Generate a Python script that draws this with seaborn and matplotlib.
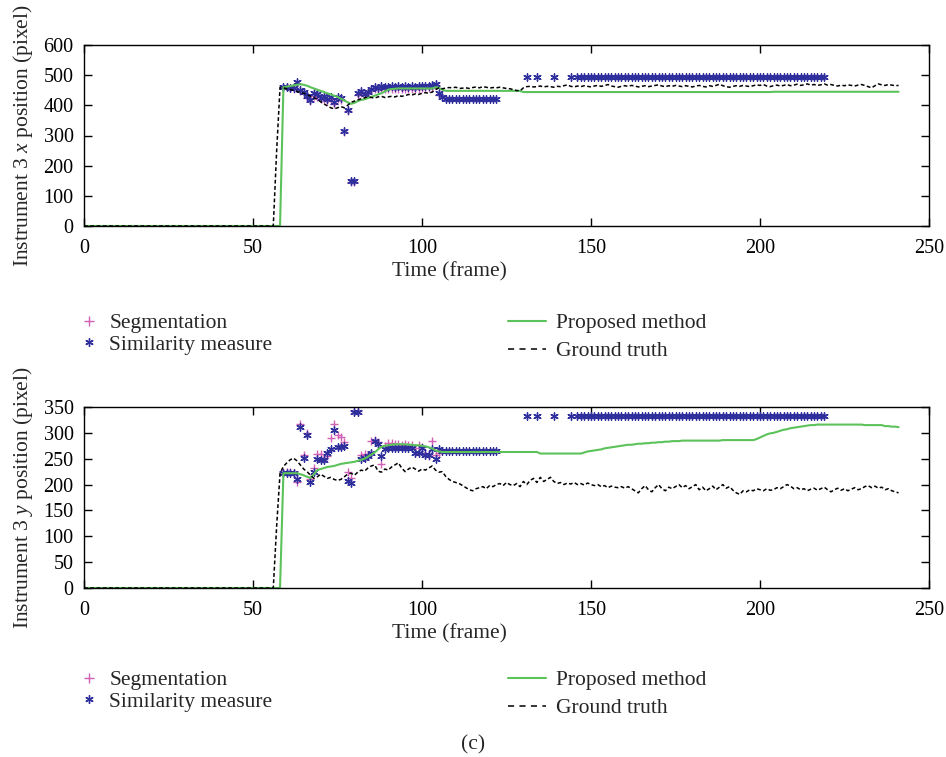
import numpy as np
import pandas as pd
import seaborn as sns
import matplotlib
matplotlib.use("Agg")
import matplotlib.pyplot as plt
from matplotlib.lines import Line2D

# ---------------------------------------------------------------- data
frames = list(range(242))

# Instrument 3, x position (pixel)
gt_x = ([0] * 57 +
        [250, 460, 458, 455, 452, 450, 446, 442, 440, 436, 430, 425, 420, 412, 405, 398,
         392, 388, 392, 396, 392, 400, 410, 414, 418, 422, 425, 428, 426, 424, 428, 430,
         426, 428, 430, 428, 432, 430, 432, 436, 434, 438, 436, 440, 442, 440, 444, 452,
         458] +
        [455, 457, 459, 458, 460, 456, 457, 458, 456, 459, 461, 458, 462, 460, 457, 459,
         458, 460, 458, 456, 455, 452, 449, 448] +
        [458, 462, 463, 461, 462, 464, 461, 463, 462, 460, 463, 462, 465, 468, 463, 461,
         464, 462, 465, 463, 461, 464, 466, 463, 465, 469, 464, 462, 460, 463, 465, 463,
         466, 464, 461, 463, 465, 462, 464, 466, 468, 464, 462, 465, 463, 466, 464, 462,
         465, 463, 461, 464, 466, 463, 461, 465, 463, 466, 470, 465, 462, 460, 463, 465,
         463, 466, 464, 462, 465, 468, 466, 469, 464, 462, 465, 467, 464, 466, 469, 465,
         467, 470, 466, 468, 471, 467, 469, 466, 468, 471, 467, 469, 466, 464, 467, 465,
         468, 466, 464, 467, 469, 466, 462, 458, 465, 471, 468, 466, 469, 467, 465, 466])

pm_x = ([0] * 59 +
        [460, 462, 464, 466, 468, 470, 468, 465, 460, 456, 452, 448, 444, 440, 436, 432,
         428, 422, 416, 410, 405, 408, 414, 418, 420, 424, 428, 432, 436, 440, 446, 452,
         454, 455] +
        [456] * 11 + [460, 458, 452] +
        [448] * 23 + [444] * 74 + [445] * 38)

# Instrument 3, y position (pixel)
gt_y = ([0] * 57 +
        [120, 222, 235, 242, 248, 251, 246, 238, 230, 225, 218, 212, 215, 220, 216, 212,
         214, 210, 208, 210, 215, 220, 222, 218, 224, 228, 226, 232, 236, 238, 226, 224,
         230, 228, 234, 238, 242, 232, 225, 230, 234, 230, 226, 230, 228, 232, 236, 228,
         224, 225, 216, 210, 206, 204, 202, 198, 194, 190, 188, 192, 194, 196, 192, 198,
         196, 200, 202, 198, 204, 200, 198, 202, 196, 206, 200, 208, 212, 204, 214, 206,
         210, 214, 206, 202, 204, 200, 203, 201, 204, 200, 202, 199, 203, 200, 198, 200,
         196, 198, 194, 197, 195, 194, 196, 193, 196, 192, 188, 184, 192, 198, 190, 186,
         194, 200, 192, 188, 195, 192, 196, 200, 194, 198, 192, 196, 200, 190, 195, 188,
         192, 197, 190, 195, 200, 193, 196, 189, 184, 181, 188, 186, 190, 188, 192, 190,
         188, 192, 189, 190, 194, 192, 196, 200, 197, 192, 194, 190, 192, 188, 191, 193,
         189, 192, 195, 190, 186, 190, 193, 189, 192, 188, 191, 194, 190, 192, 196, 198,
         194, 197, 193, 195, 190, 192, 188, 186, 184])

pm_y = ([0] * 59 +
        [222, 222, 222, 222, 222, 220, 218, 215, 213, 220, 228, 230, 232, 234, 235, 236,
         238, 240, 241, 242, 243, 244, 246, 248, 250, 254, 258, 262, 268, 273, 275, 276,
         277, 278, 278, 278, 278, 277, 277, 276, 276, 275, 274, 272, 270, 266, 264] +
        [263] * 29 + [260] * 13 +
        [262, 264, 265, 266, 267, 268, 270, 271, 272, 273, 274, 275, 276, 277, 277, 278,
         279, 279, 280, 280, 281, 281, 282, 282, 283, 283, 284, 284, 284] +
        [285] * 12 + [286] * 10 +
        [288, 291, 294, 297, 299, 300, 302, 304, 306, 307, 309, 310, 311, 312, 313, 314,
         315, 315, 316] +
        [316] * 13 + [315] * 6 + [313, 313, 312, 312, 311])

# Per-frame detections
seg_frames = list(range(59, 106))
seg_x = [458, 460, 456, 454, 470, 448, 440, 425, 415, 432, 428, 420, 422, 415, 420, 405,
         420, 418, 310, 380, 145, 145, 435, 442, 436, 440, 450, 454, 453, 455, 455, 455,
         455, 455, 455, 455, 455, 455, 455, 455, 455, 456, 456, 457, 458, 466, 435]
seg_y = [224, 224, 224, 222, 205, 318, 258, 300, 210, 232, 260, 260, 252, 255, 290, 318,
         295, 292, 282, 225, 212, 343, 343, 258, 260, 258, 285, 286, 282, 240, 275, 280,
         280, 278, 278, 276, 278, 276, 277, 270, 276, 272, 262, 255, 285, 258, 262]

sim_frames = list(range(59, 123)) + [131, 134, 139, 144] + list(range(146, 220))
sim_x = ([460, 460, 458, 456, 476, 452, 445, 432, 418, 440, 436, 425, 430, 420, 428, 410,
          428, 425, 315, 385, 150, 148, 440, 448, 438, 445, 455, 460, 457, 463, 461, 462,
          463, 462, 463, 462, 463, 462, 463, 462, 463, 464, 463, 465, 466, 470, 440, 428] +
         [420] * 16 + [495] * 4 + [495] * 74)
sim_y = ([222, 222, 222, 222, 210, 312, 252, 295, 205, 225, 250, 248, 248, 262, 268, 305,
          272, 272, 275, 206, 204, 340, 340, 250, 252, 255, 262, 285, 278, 255, 268, 270,
          270, 271, 270, 271, 270, 270, 271, 262, 262, 270, 258, 258, 268, 250, 268] +
         [265] * 17 + [333] * 4 + [333] * 74)

# ---------------------------------------------------------------- style
sns.set_style("ticks")
plt.rcParams.update({
    "font.family": ["Liberation Serif", "DejaVu Serif"],
    "mathtext.fontset": "custom",
    "mathtext.rm": "Liberation Serif",
    "mathtext.it": "Liberation Serif:italic",
    "axes.edgecolor": "black",
    "axes.linewidth": 1.0,
    "xtick.color": "black",
    "ytick.color": "black",
})

GREEN = "#5cc25a"
PINK = "#d060b4"
BLUE = "#2e2e9c"
GT_DASH = (0, (2.5, 1.6))
ASTERISK = (6, 2, 0)
FS = 15.5

W, H = 946, 757
fig = plt.figure(figsize=(W / 100, H / 100), dpi=100)


def fig_box(left, top, right, bottom):
    return [left / W, 1 - bottom / H, (right - left) / W, (bottom - top) / H]


ax_top = fig.add_axes(fig_box(84, 45, 929, 226))
ax_bot = fig.add_axes(fig_box(84, 407, 929, 588))


def draw_panel(ax, gt, pm, seg, sim, ymax, ystep, ylabel):
    sns.lineplot(x=frames, y=pm, ax=ax, color=GREEN, lw=1.5, estimator=None)
    sns.lineplot(x=frames, y=gt, ax=ax, color="black", lw=1.1, estimator=None,
                 linestyle=GT_DASH)
    sns.scatterplot(x=seg_frames, y=seg, ax=ax, marker="+", color=PINK, s=40,
                    linewidth=1.0)
    sns.scatterplot(x=sim_frames, y=sim, ax=ax, marker=ASTERISK, color=BLUE, s=28,
                    linewidth=1.0)
    ax.set_xlim(0, 250)
    ax.set_ylim(0, ymax)
    ax.set_xticks(np.arange(0, 251, 50))
    ax.set_yticks(np.arange(0, ymax + 1, ystep))
    ax.tick_params(direction="in", length=6, width=1.0, top=True, right=True,
                   labelsize=14.5)
    ax.tick_params(axis="x", pad=9.5)
    ax.tick_params(axis="y", pad=7.5)
    ax.set_xlabel("Time (frame)", fontsize=FS, labelpad=5)
    ax.xaxis.set_label_coords((449 - 84) / 845, -0.3, transform=ax.transAxes)
    ax.xaxis.label.set_va("center")
    ax.set_ylabel(ylabel, fontsize=FS, labelpad=6)
    for s in ax.spines.values():
        s.set_visible(True)
        s.set_linewidth(1.0)


def add_legends(ax, top_px):
    h_seg = Line2D([], [], marker="+", color=PINK, ls="none", ms=7, mew=1.0)
    h_sim = Line2D([], [], marker=ASTERISK, color=BLUE, ls="none", ms=6, mew=1.0)
    h_pm = Line2D([], [], color=GREEN, lw=1.5)
    h_gt = Line2D([], [], color="black", lw=1.1, ls=(0, (4, 3.5)))
    common = dict(loc="upper left", frameon=False, fontsize=FS, borderpad=0,
                  borderaxespad=0, bbox_transform=fig.transFigure)
    leg1 = ax.legend([h_seg, h_sim], ["Segmentation", "Similarity measure"],
                     bbox_to_anchor=(78 / W, 1 - top_px / H), handlelength=1.0,
                     handletextpad=0.45, labelspacing=0.08, **common)
    ax.add_artist(leg1)
    ax.legend([h_pm, h_gt], ["Proposed method", "Ground truth"],
              bbox_to_anchor=(508 / W, 1 - top_px / H), handlelength=1.75,
              handletextpad=0.5, labelspacing=0.38, **common)


draw_panel(ax_top, gt_x, pm_x, seg_x, sim_x, 600, 100,
           "Instrument 3 $x$ position (pixel)")
draw_panel(ax_bot, gt_y, pm_y, seg_y, sim_y, 350, 50,
           "Instrument 3 $y$ position (pixel)")
# x-label centre sits 46 px below each axis
for ax in (ax_top, ax_bot):
    ax.xaxis.set_label_coords((449 - 84) / 845, -46 / 181)
add_legends(ax_top, 313)
add_legends(ax_bot, 670)

fig.text(473 / W, 1 - 745 / H, "(c)", ha="center", va="center", fontsize=FS)

fig.savefig("out.png", dpi=100)
